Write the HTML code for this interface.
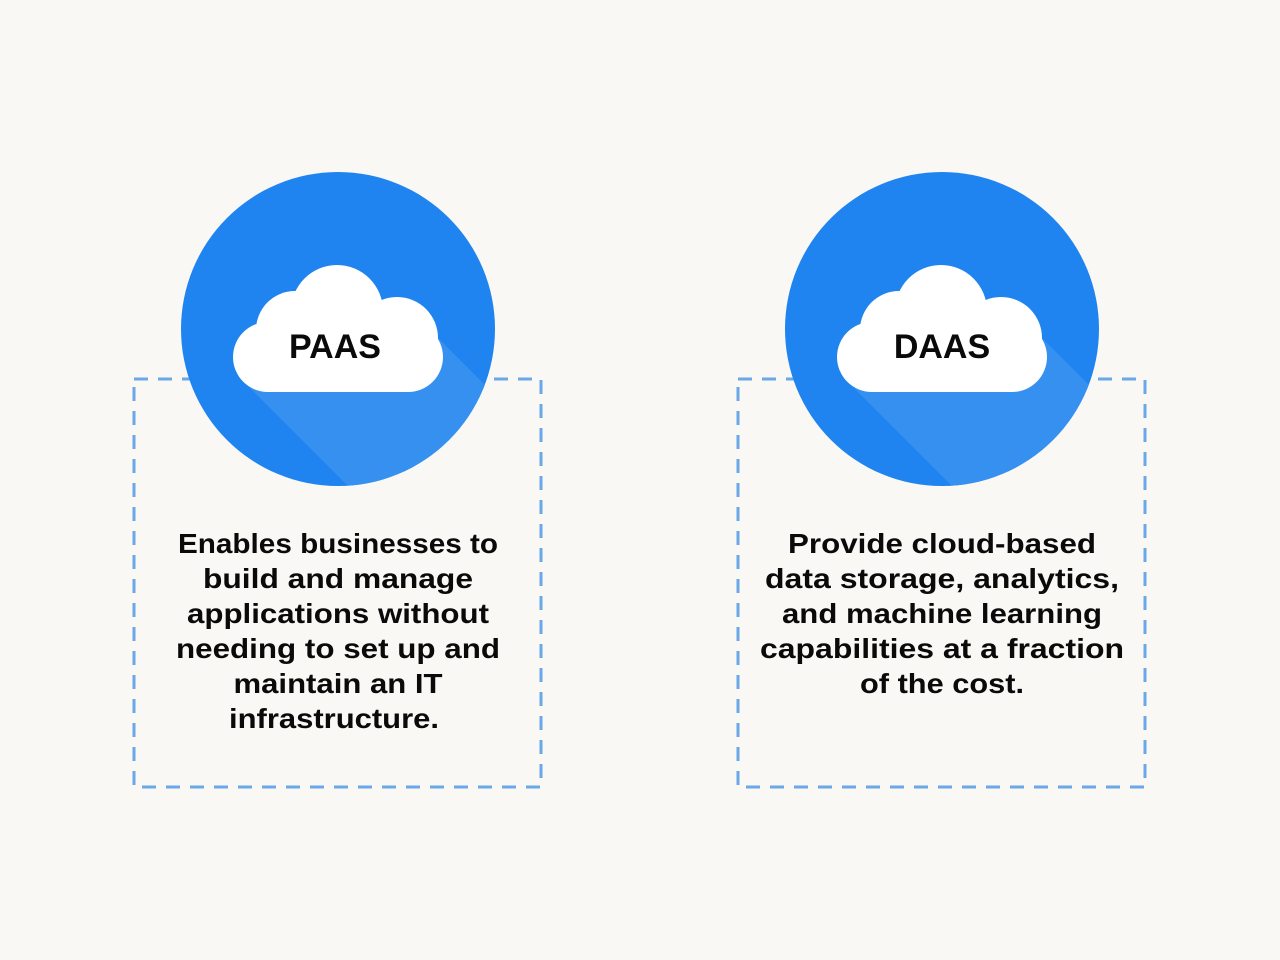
<!DOCTYPE html>
<html><head><meta charset="utf-8"><style>
html,body{margin:0;padding:0;background:#f9f8f4;}
svg{display:block}
text{font-family:"Liberation Sans",sans-serif;font-weight:bold;fill:#0a0a0a;}
</style></head><body>
<svg width="1280" height="960" viewBox="0 0 1280 960" xmlns="http://www.w3.org/2000/svg">
<defs>
<clipPath id="c1"><circle cx="338" cy="329" r="157"/></clipPath>
<clipPath id="c2"><circle cx="942" cy="329" r="157"/></clipPath>
<g id="cloud">
<rect x="233" y="322" width="210" height="70" rx="35" fill="#fff"/>
<circle cx="295" cy="330" r="39" fill="#fff"/>
<circle cx="337" cy="311" r="46" fill="#fff"/>
<circle cx="397" cy="338" r="41" fill="#fff"/>
</g>
</defs>
<rect x="134" y="379" width="407" height="408" fill="none" stroke="#6aa8e8" stroke-width="3" stroke-dasharray="14 10"/>
<rect x="738" y="379" width="407" height="408" fill="none" stroke="#6aa8e8" stroke-width="3" stroke-dasharray="14 10"/>

<circle cx="338" cy="329" r="157" fill="#1f84ef"/>
<g clip-path="url(#c1)"><polygon points="250,388 420,320 720,620 550,688" fill="#3690f0"/></g>
<use href="#cloud"/>
<text x="335" y="358" font-size="34" text-anchor="middle">PAAS</text>

<circle cx="942" cy="329" r="157" fill="#1f84ef"/>
<g clip-path="url(#c2)"><polygon points="854,388 1024,320 1324,620 1154,688" fill="#3690f0"/></g>
<use href="#cloud" x="604"/>
<text x="942" y="358" font-size="34" text-anchor="middle">DAAS</text>

<g font-size="28" text-anchor="middle">
<text x="338" y="553" textLength="320" lengthAdjust="spacingAndGlyphs">Enables businesses to</text>
<text x="338" y="588" textLength="270" lengthAdjust="spacingAndGlyphs">build and manage</text>
<text x="338" y="623" textLength="302" lengthAdjust="spacingAndGlyphs">applications without</text>
<text x="338" y="658" textLength="324" lengthAdjust="spacingAndGlyphs">needing to set up and</text>
<text x="338" y="693" textLength="209" lengthAdjust="spacingAndGlyphs">maintain an IT</text>
<text x="334" y="728" textLength="210" lengthAdjust="spacingAndGlyphs">infrastructure.</text>

<text x="942" y="553" textLength="308" lengthAdjust="spacingAndGlyphs">Provide cloud-based</text>
<text x="942" y="588" textLength="354" lengthAdjust="spacingAndGlyphs">data storage, analytics,</text>
<text x="942" y="623" textLength="320" lengthAdjust="spacingAndGlyphs">and machine learning</text>
<text x="942" y="658" textLength="364" lengthAdjust="spacingAndGlyphs">capabilities at a fraction</text>
<text x="942" y="693" textLength="164" lengthAdjust="spacingAndGlyphs">of the cost.</text>
</g>
</svg>
</body></html>
